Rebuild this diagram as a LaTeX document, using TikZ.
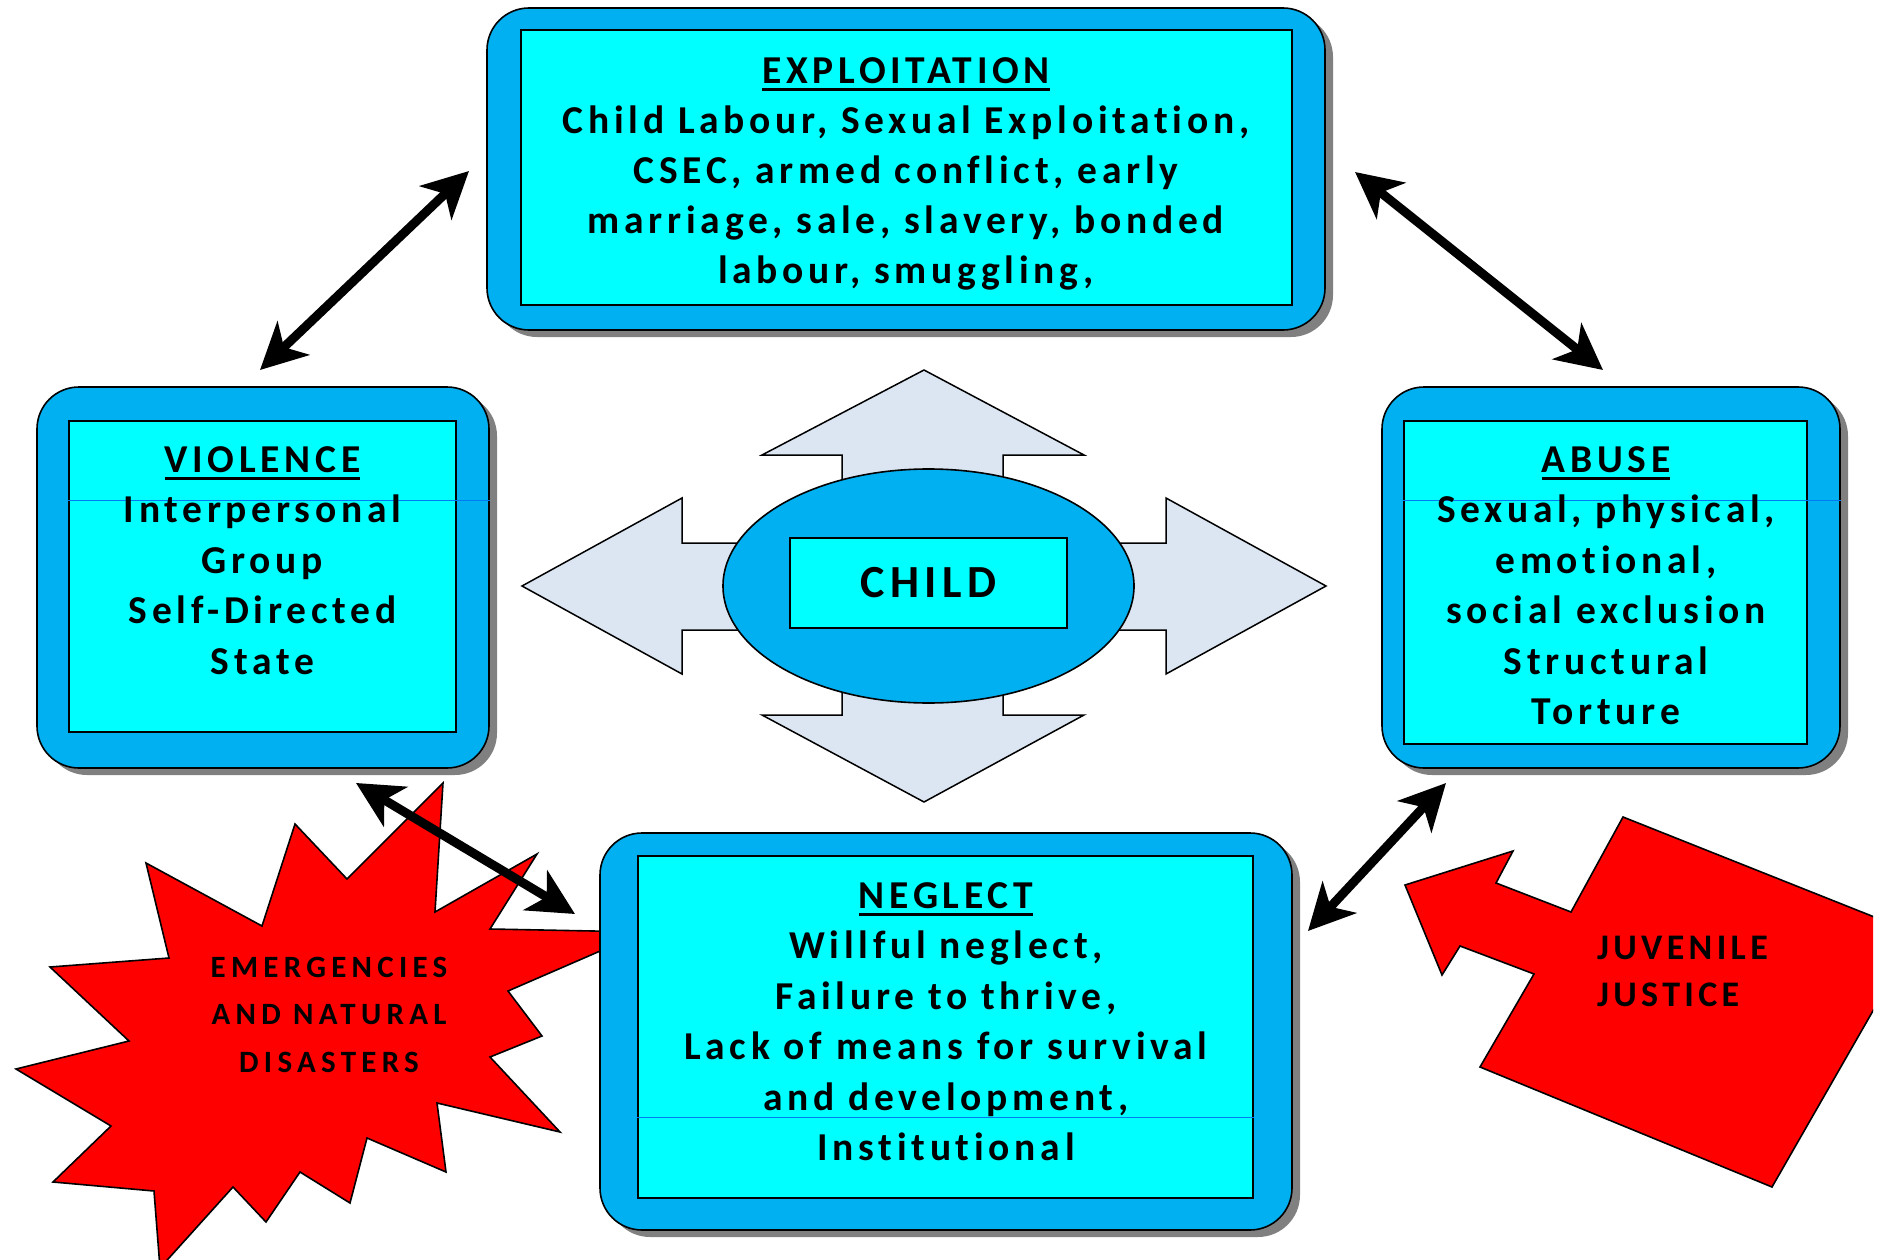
\documentclass[tikz,border=0pt]{standalone}
\usepackage{fontspec}
\newfontfamily\cardfont{Carlito}[LetterSpace=12,Ligatures={NoCommon,NoContextual}]
\newfontfamily\burstfont{Carlito}[LetterSpace=17,Ligatures={NoCommon,NoContextual}]
\usetikzlibrary{shapes.geometric,shadows,arrows.meta}
\definecolor{plaqueblue}{HTML}{00B0F0}
\definecolor{panelcyan}{HTML}{00FFFF}
\definecolor{crossgrey}{HTML}{DCE6F2}
\newcommand\headul[1]{\setbox0\hbox{#1}\rlap{\rule[-7.5pt]{\wd0}{3pt}}\box0}

\begin{document}
\begin{tikzpicture}[x=1pt,y=-1pt]
\tikzstyle{plaque}=[draw,line width=1.6pt,fill=plaqueblue,rounded corners=42pt,inner sep=0pt,drop shadow={shadow xshift=8pt,shadow yshift=-7pt,fill=black!50,opacity=1}]
\tikzstyle{panel}=[draw,line width=2.2pt,fill=panelcyan,inner sep=0pt]
\tikzstyle{cardtext}=[align=center,inner sep=0pt,font=\cardfont\bfseries\fontsize{39.5}{50.5}\selectfont]
\tikzstyle{seam}=[draw=plaqueblue!70!blue,line width=0.8pt]
\tikzstyle{burst}=[fill=red,draw,line width=1.6pt]
\tikzstyle{link}=[line width=9pt,{Stealth[length=46pt,width=46pt,inset=13pt]}-{Stealth[length=46pt,width=46pt,inset=13pt]}]
\fill[white] (0,0) rectangle (1883,1260);
\useasboundingbox (0,0) rectangle (1883,1260);

\draw[fill=crossgrey,line width=1.5pt] (924,370) -- (1084,455) -- (1003,455) -- (1003,543) -- (1166,543) -- (1166,498) -- (1326,586) -- (1166,674) -- (1166,630) -- (1003,630) -- (1003,715) -- (1084,715) -- (924,802) -- (762,715) -- (842,715) -- (842,630) -- (682,630) -- (682,674) -- (522,586) -- (682,498) -- (682,543) -- (842,543) -- (842,455) -- (762,455) -- cycle;
\node[ellipse,draw,line width=1.6pt,fill=plaqueblue,minimum width=411pt,minimum height=234pt,inner sep=0pt] (hub) at (928.5,586) {};
\node[panel,minimum width=277pt,minimum height=90pt,font=\cardfont\bfseries\fontsize{46}{50}\selectfont] (child) at (928.5,583) {CHILD};

\begin{scope}
\clip (0,0) rectangle (1873,1260);
\draw[burst] (443,783) -- (435,912) -- (537,854) -- (490,929) -- (644,932) -- (508,991) -- (542,1036) -- (490,1057) -- (560,1132) -- (437,1103) -- (446,1172) -- (367,1138) -- (350,1203) -- (300,1172) -- (266,1222) -- (233,1187) -- (160,1268) -- (154,1191) -- (53,1182) -- (111,1126) -- (16,1069) -- (129,1041) -- (50,967) -- (169,958) -- (146,863) -- (262,926) -- (295,824) -- (347,879) -- cycle;
\draw[burst] (1405,885) -- (1513,851) -- (1496,883) -- (1571,912) -- (1623,817) -- (1917,934) -- (1772,1187) -- (1480,1067) -- (1534,974) -- (1460,946) -- (1442,975) -- cycle;
\end{scope}
\node[align=center,inner sep=0pt,font=\burstfont\bfseries\fontsize{31}{47.5}\selectfont] (burstlbl) at (329,1014.5) {EMERGENCIES\\AND NATURAL\\DISASTERS};
\node[align=left,anchor=west,inner sep=0pt,font=\cardfont\bfseries\fontsize{36}{47}\selectfont] (jjlbl) at (1597,971.5) {JUVENILE\\JUSTICE};

\node[plaque,minimum width=838pt,minimum height=322pt] (xplaque) at (906,169) {};
\node[panel,minimum width=771pt,minimum height=275pt] (xpanel) at (906.5,167.5) {};
\node[cardtext,font=\cardfont\bfseries\fontsize{39.5}{50}\selectfont] (xtext) at (906,174) {\headul{EXPLOITATION}\\Child Labour, Sexual Exploitation,\\CSEC, armed conflict, early\\marriage, sale, slavery, bonded\\labour, smuggling,};

\node[plaque,minimum width=452pt,minimum height=381pt] (vplaque) at (263,577.5) {};
\node[panel,minimum width=387pt,minimum height=311pt] (vpanel) at (262.5,576.5) {};
\draw[seam] (vpanel.west |- 0,500) -- (vplaque.east |- 0,500);
\node[cardtext] (vtext) at (262.5,560.5) {\headul{VIOLENCE}\\Interpersonal\\Group\\Self-Directed\\State};

\node[plaque,minimum width=458pt,minimum height=381pt] (aplaque) at (1611,577.5) {};
\node[panel,minimum width=403pt,minimum height=323pt] (apanel) at (1605.5,582.5) {};
\draw[seam] (apanel.west |- 0,500) -- (aplaque.east |- 0,500);
\node[cardtext] (atext) at (1606,585.5) {\headul{ABUSE}\\Sexual, physical,\\emotional,\\social exclusion\\Structural\\Torture};

\node[plaque,minimum width=692pt,minimum height=397pt] (nplaque) at (946,1031.5) {};
\node[panel,minimum width=615pt,minimum height=342pt] (npanel) at (945.5,1027) {};
\draw[seam] (npanel.west |- 0,1117) -- (npanel.east |- 0,1117);
\node[cardtext] (ntext) at (946,1021.5) {\headul{NEGLECT}\\Willful neglect,\\Failure to thrive,\\Lack of means for survival\\and development,\\Institutional};

\coordinate (vxa) at (260,370);
\coordinate (vxb) at (469,171);
\coordinate (xaa) at (1355,172);
\coordinate (xab) at (1603,370);
\coordinate (vna) at (356,783);
\coordinate (vnb) at (575,914);
\coordinate (naa) at (1308,931);
\coordinate (nab) at (1446,783);
\draw[link] (vxa) -- (vxb);
\draw[link] (xaa) -- (xab);
\draw[link] (vna) -- (vnb);
\draw[link] (naa) -- (nab);
\end{tikzpicture}
\end{document}
